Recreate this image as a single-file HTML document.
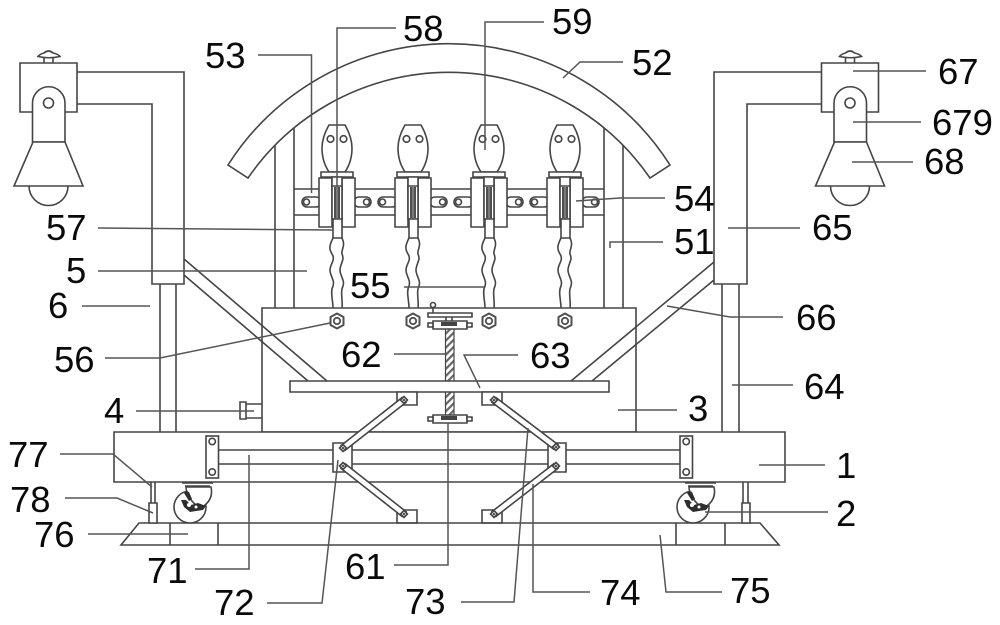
<!DOCTYPE html>
<html>
<head>
<meta charset="utf-8">
<style>
html,body{margin:0;padding:0;background:#fff}
svg{display:block;filter:blur(0.35px)}
text{font-family:"Liberation Sans",sans-serif;font-size:36.5px;fill:#0a0a0a}
.l{fill:none;stroke:#454545;stroke-width:1.6}
.w{fill:#fff;stroke:#454545;stroke-width:1.6}
.t{fill:none;stroke:#555;stroke-width:1.5}
</style>
</head>
<body>
<svg width="1000" height="625" viewBox="0 0 1000 625" xmlns="http://www.w3.org/2000/svg">
<defs>
<pattern id="h" width="5" height="5" patternUnits="userSpaceOnUse" patternTransform="rotate(-45)">
<rect width="5" height="5" fill="#fff"/><rect width="5" height="2.2" fill="#666"/>
</pattern>
<g id="lamp">
<path class="w" d="M20 63H77V112H20Z"/>
<path class="w" d="M32.500 142V103A16.200 16.200 0 0 1 65 103V142Z"/>
<circle class="l" cx="48.500" cy="103" r="5"/>
<path class="w" d="M33 142H65L83 186H14Z"/>
<path class="l" d="M29 186A19.500 19.500 0 0 0 68 186"/>
<path class="l" d="M38 56.500Q40 54 44 53Q48.500 49 53 53Q58 54 60 56.500Q49 59 38 56.500ZM44 58V63M53 58V63"/>
</g>
<g id="unit">
<path class="w" d="M-8 125H8C12 132 15 140 15 148C15 158 12 166 8 172H-8C-12 166 -15 158 -15 148C-15 140 -12 132 -8 125Z"/>
<circle class="l" cx="-6.500" cy="139" r="3.300"/>
<circle class="l" cx="6.500" cy="139" r="3.300"/>
<path class="w" d="M-16 172H16V177H-16Z"/>
<path class="w" d="M-18 178H-5V227H-18ZM5 178H18V227H5Z"/>
<path class="w" d="M-5 177H5V190H-5Z"/>
<path class="w" d="M-5 186H5V219H-5Z"/>
<path d="M-3 187H3V218H-3Z" fill="#505050"/>
<path d="M-0.400 187H0.400V218H-0.400Z" fill="#bbb"/>
<path class="w" d="M-4 219H5V238H-4Z"/>
<path class="l" d="M-4 238C-8 246 -8 249 -5 254C-1 260 -7 264 -7 270C-7 276 -2 280 -4 286C-7 292 -4 300 -4 308"/>
<path class="l" d="M5 238C9 246 4 249 5 254C8 260 3 264 3 270C3 276 8 280 6 286C3 292 6 300 5 308"/>
<path d="M0 313.500L6.500 317V325L0 328.500L-6.500 325V317Z" fill="#fff" stroke="#505050" stroke-width="2" stroke-linejoin="round"/>
<circle cx="0" cy="321" r="3.200" fill="#fff" stroke="#505050" stroke-width="1.800"/>
</g>
<g id="slotL"><rect class="w" x="0" y="197" width="19" height="10" rx="5"/><circle class="l" cx="4.500" cy="202" r="3"/></g>
<g id="slotR"><rect class="w" x="-1" y="197" width="17" height="10" rx="5"/><circle class="l" cx="11.500" cy="202" r="3"/></g>
<g id="jackb">
<path class="w" d="M433 0H467V8H433Z"/>
<path class="w" d="M428 2H433V6H428ZM467 2H472V6H467Z"/>
<path d="M441 1H457V5H441Z" fill="#444"/>
</g>
<g id="bolt"><path class="w" d="M-3.500 0L0 -3.500L3.500 0L0 3.500Z"/><circle cx="0" cy="0" r="1.300" fill="#555"/></g>
<g id="plate"><rect class="w" x="0" y="0" width="12.500" height="42"/><circle class="l" cx="6.200" cy="5.500" r="3.200"/><circle class="l" cx="6.200" cy="36" r="3.200"/></g>
<g id="wheel">
<path class="l" d="M182 483H213M185 486H210" stroke-width="2"/>
<circle class="w" cx="190" cy="507" r="16"/>
<path class="w" d="M186 487H211Q214 500 201 508Q193 504 190 498Q186 492 186 487Z" fill="#fff"/>
<path d="M184 493Q186 490 189 492L192 499L189 501ZM181 500L186 500L191 505L198 503L206 506L203 510L196 511L190 512L184 507Z" fill="#2e2e2e"/>
<circle cx="189" cy="505" r="2" fill="#fff"/>
<circle cx="196" cy="507" r="1.500" fill="#fff"/>
</g>
</defs>

<use href="#lamp"/>
<use href="#lamp" transform="translate(801.500,0)"/>

<path class="l" d="M77 72H184V284H152V104H77"/>
<path class="l" d="M821 72H714V284H747V104H821"/>
<path class="l" d="M160 284V432M176 284V432M722 284V432M739 284V432"/>

<path class="l" d="M275 145V308M294 128V308M604 128V308M623 145V308"/>
<path class="w" d="M228 165A262 262 0 0 1 670 165L650 178A244 244 0 0 0 248 178Z"/>
<path class="l" d="M294 189H604M294 215H604"/>

<use href="#slotL" x="302"/><use href="#slotR" x="355"/>
<use href="#slotL" x="378"/><use href="#slotR" x="431"/>
<use href="#slotL" x="454"/><use href="#slotR" x="507"/>
<use href="#slotL" x="530"/><use href="#slotR" x="583"/>

<path class="w" d="M262 308H636V432H262Z"/>
<path class="l" d="M184 259L327 381M184 275L308 381M714 262L571 381M714 280L592 381"/>
<use href="#unit" x="337"/>
<use href="#unit" x="413"/>
<use href="#unit" x="489"/>
<use href="#unit" x="565"/>

<path class="w" d="M240 402H246V419H240Z"/>
<path class="l" d="M246 404H262M246 418H262"/>

<rect x="445.500" y="328" width="8.500" height="88" fill="url(#h)" stroke="#454545" stroke-width="1.200"/>
<path class="w" d="M290 381H609V392H290Z"/>
<circle class="l" cx="433" cy="305" r="2.500"/>
<path class="l" d="M433 308V313M446 317V322M452 317V322"/>
<path class="w" d="M428 313H472V317H428Z"/>
<use href="#jackb" y="321"/>
<use href="#jackb" y="415"/>

<path class="w" d="M114 432H785V482H114Z"/>
<path class="l" d="M218 450H680M218 464H680"/>
<use href="#plate" x="206" y="436"/>
<use href="#plate" x="680" y="436"/>

<path class="w" d="M397 392H417V405H397ZM482 392H502V405H482ZM397 510H417V523H397ZM482 510H502V523H482Z"/>
<path class="w" d="M333 443H352V472H333ZM548 443H566V472H548Z"/>
<path class="w" d="M402 397.600L406 402.400L345 450.400L341 445.600Z"/>
<path class="w" d="M341 468.400L402 516.400L406 511.600L345 463.600Z"/>
<path class="w" d="M492 402.400L554 449.400L558 444.600L496 397.600Z"/>
<path class="w" d="M558 468.400L496 516.400L492 511.600L554 463.600Z"/>
<use href="#bolt" transform="translate(404,400)"/>
<use href="#bolt" transform="translate(343,448)"/>
<use href="#bolt" transform="translate(343,466)"/>
<use href="#bolt" transform="translate(404,514)"/>
<use href="#bolt" transform="translate(494,400)"/>
<use href="#bolt" transform="translate(556,447)"/>
<use href="#bolt" transform="translate(556,466)"/>
<use href="#bolt" transform="translate(494,514)"/>

<path class="l" d="M139 523H760L779 545H121ZM170 523V545M218 523V545M676 523V545M725 523V545"/>

<path class="l" d="M151 482V503M155 482V503M743 482V503M748 482V503"/>
<path class="w" d="M149 503H157V523H149ZM742 503H750V523H742Z"/>

<use href="#wheel"/>
<use href="#wheel" x="503"/>

<path class="t" d="M258 55H311.500V193"/>
<path class="t" d="M396 28H337V187"/>
<path class="t" d="M544 22H485V150"/>
<path class="t" d="M623 62H580L563 78"/>
<path class="t" d="M853 71H926"/>
<path class="t" d="M853 122H921"/>
<path class="t" d="M852 162H913"/>
<path class="t" d="M665 198H620L576 201"/>
<path class="t" d="M728 228H800"/>
<path class="t" d="M663 242H610V248"/>
<path class="t" d="M98 228L333 230"/>
<path class="t" d="M98 271H307"/>
<path class="t" d="M82 306H150"/>
<path class="t" d="M404 287H484"/>
<path class="t" d="M783 317H730L667 306"/>
<path class="t" d="M105 358H160L330 323"/>
<path class="t" d="M394 354H446"/>
<path class="t" d="M518 355H464L480 388"/>
<path class="t" d="M793 385H732"/>
<path class="t" d="M618 410H677"/>
<path class="t" d="M136 411H254"/>
<path class="t" d="M759 465H825"/>
<path class="t" d="M828 512H705"/>
<path class="t" d="M60 454H113L152 487"/>
<path class="t" d="M65 498H117L153 513"/>
<path class="t" d="M88 534H188"/>
<path class="t" d="M195 569H249V455"/>
<path class="t" d="M267 603H322L338 460"/>
<path class="t" d="M394 565H448V423"/>
<path class="t" d="M461 602H514L528 428"/>
<path class="t" d="M590 592H533V484"/>
<path class="t" d="M722 592H666L660 535"/>

<text x="205" y="68">53</text>
<text x="403" y="41">58</text>
<text x="552" y="34">59</text>
<text x="632" y="75">52</text>
<text x="938" y="84">67</text>
<text x="932" y="135">679</text>
<text x="924" y="174">68</text>
<text x="674" y="211">54</text>
<text x="812" y="240">65</text>
<text x="674" y="254">51</text>
<text x="46" y="240">57</text>
<text x="66" y="283">5</text>
<text x="48" y="318">6</text>
<text x="350" y="298">55</text>
<text x="796" y="330">66</text>
<text x="54" y="372">56</text>
<text x="341" y="367">62</text>
<text x="530" y="368">63</text>
<text x="804" y="399">64</text>
<text x="104" y="423">4</text>
<text x="688" y="421">3</text>
<text x="8" y="467">77</text>
<text x="836" y="478">1</text>
<text x="10" y="512">78</text>
<text x="836" y="526">2</text>
<text x="34" y="547">76</text>
<text x="147" y="583">71</text>
<text x="345" y="579">61</text>
<text x="214" y="615">72</text>
<text x="405" y="614">73</text>
<text x="600" y="605">74</text>
<text x="730" y="603">75</text>
</svg>
</body>
</html>
